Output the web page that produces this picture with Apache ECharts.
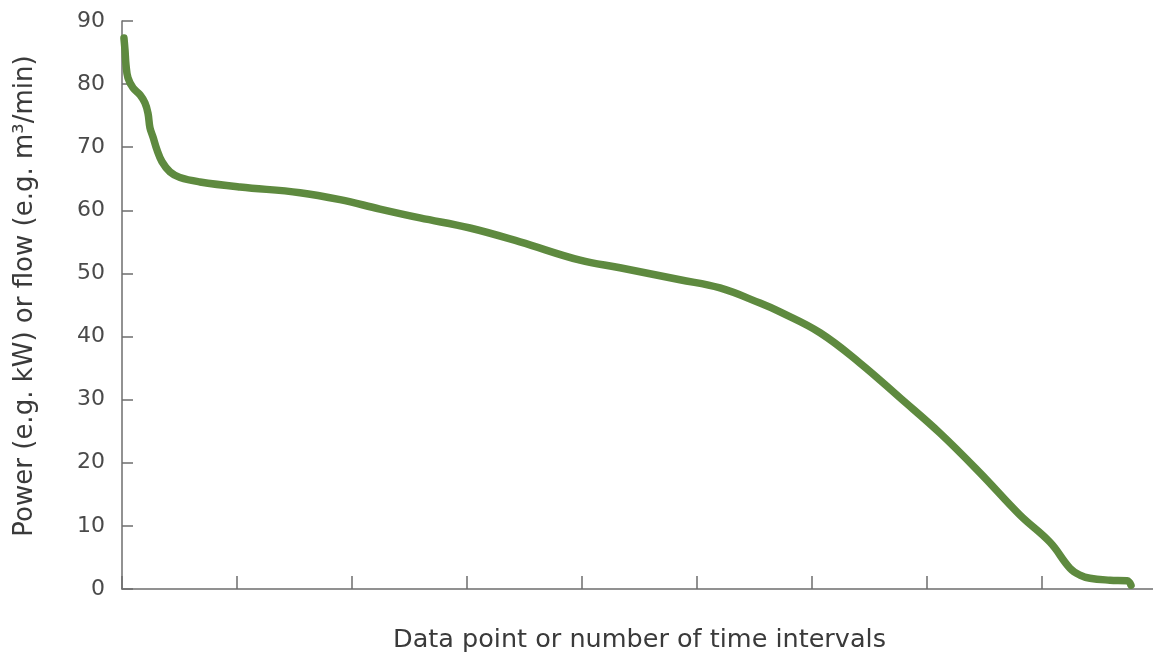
<!DOCTYPE html>
<html>
<head>
<meta charset="utf-8">
<script src="https://cdn.jsdelivr.net/npm/echarts@6/dist/echarts.min.js"></script>
<style>
html,body{margin:0;padding:0;background:#fff;}
#chart{width:1153px;height:654px;}
</style>
</head>
<body>
<div id="chart"></div>
<script>
// x in units of tick intervals, y in kW or m3/min
const xValues = [0.017,0.026,0.035,0.052,0.096,0.157,0.200,0.226,0.243,0.270,0.304,0.348,0.417,0.504,0.678,1.026,1.548,1.896,2.243,2.591,3.026,3.461,3.983,4.330,4.852,5.200,5.548,5.722,6.070,6.417,6.765,7.113,7.461,7.809,8.070,8.243,8.330,8.417,8.591,8.739,8.774];
const yValues = [87.3,85.4,83.0,81.0,79.4,78.3,77.0,75.4,73.1,71.6,69.6,67.7,66.1,65.2,64.5,63.7,62.8,61.7,60.2,58.8,57.2,55.0,52.1,50.9,49.0,47.7,45.3,43.9,40.6,35.8,30.3,24.7,18.4,11.7,7.4,3.3,2.2,1.7,1.4,1.3,0.6];
const yTicks = [0,10,20,30,40,50,60,70,80,90];
const xAxisTitle = 'Data point or number of time intervals';
const yAxisTitle = 'Power (e.g. kW) or flow (e.g. m³/min)';

const seriesData = xValues.map((x, i) => [x, yValues[i]]);
const chart = echarts.init(document.getElementById('chart'));
const FONT = 'DejaVu Sans';
chart.setOption({
  animation: false,
  grid: {left: 122, top: 21, width: 1035, height: 568, containLabel: false, outerBoundsMode: 'none'},
  graphic: [{
    type: 'text', x: 25, y: 296, rotation: Math.PI / 2,
    style: {text: yAxisTitle, fontFamily: FONT, fontSize: 26, fontWeight: 'normal', fill: '#3a3a3a',
            align: 'center', verticalAlign: 'middle'}
  }],
  xAxis: {
    type: 'value', min: 0, max: 9, interval: 1,
    name: xAxisTitle, nameLocation: 'middle', nameGap: 38,
    nameTextStyle: {fontFamily: FONT, fontSize: 25.5, color: '#3a3a3a'},
    axisLine: {show: true, lineStyle: {color: '#6e6e6e', width: 1.5}},
    axisTick: {show: true, inside: true, length: 13, lineStyle: {color: '#6e6e6e', width: 1.5}},
    axisLabel: {show: false},
    splitLine: {show: false}
  },
  yAxis: {
    type: 'value', min: yTicks[0], max: yTicks[yTicks.length-1], interval: 10,
    axisLine: {show: true, lineStyle: {color: '#6e6e6e', width: 1.5}},
    axisTick: {show: true, inside: true, length: 11, lineStyle: {color: '#6e6e6e', width: 1.5}},
    axisLabel: {margin: 17, fontFamily: FONT, fontSize: 22, color: '#4a4a4a'},
    splitLine: {show: false}
  },
  series: [{
    type: 'line', data: seriesData, smooth: 0.4, showSymbol: false,
    lineStyle: {color: '#5e8a3f', width: 7.5, cap: 'round', join: 'round'}
  }]
});
</script>
</body>
</html>
